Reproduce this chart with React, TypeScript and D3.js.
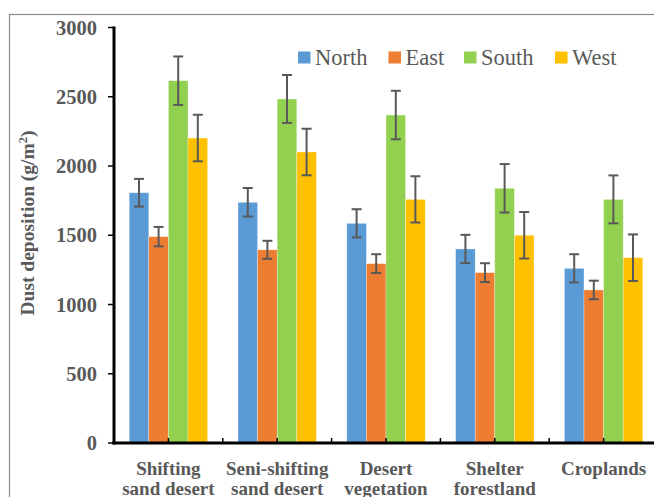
import * as d3 from 'd3'

const categories = [
  ['Shifting', 'sand desert'],
  ['Seni-shifting', 'sand desert'],
  ['Desert', 'vegetation'],
  ['Shelter', 'forestland'],
  ['Croplands'],
]
const series = ['North', 'East', 'South', 'West']
const colors = ['#5B9BD5', '#ED7D31', '#92D050', '#FFC000']

// mean values per category, one array per series
const north = [1807, 1738, 1586, 1401, 1261]
const east = [1490, 1395, 1295, 1230, 1105]
const south = [2616, 2484, 2368, 1839, 1759]
const west = [2202, 2101, 1759, 1500, 1338]
// error bar half-widths
const northErr = [100, 103, 102, 102, 102]
const eastErr = [70, 65, 68, 68, 67]
const southErr = [175, 173, 175, 175, 173]
const westErr = [168, 168, 167, 168, 168]

const yTicks = [0, 500, 1000, 1500, 2000, 2500, 3000]

const values = [north, east, south, west]
const errors = [northErr, eastErr, southErr, westErr]

const W = 654
const H = 497
const textColor = '#595959'
const serif = '"Liberation Serif", "Times New Roman", serif'

export default function App() {
  const y = d3.scaleLinear().domain([0, 3000]).range([443, 27.5])
  const keys = categories.map((c) => c.join(' '))
  const x0 = d3.scaleBand<string>().domain(keys).range([114, 658]).padding(0)
  const groupW = 78.4
  const x1 = d3.scaleBand<string>().domain(series).range([0, groupW]).padding(0)
  const offset = (x0.bandwidth() - groupW) / 2
  const cap = 5

  return (
    <svg width={W} height={H} style={{ position: 'absolute', left: 0, top: 0, background: '#fff' }}>
      <rect x={9.5} y={14.5} width={700} height={600} fill="#fff" stroke="#8c8c8c" strokeWidth={1.2} />

      {/* bars */}
      {keys.map((k, ci) => (
        <g key={k} transform={`translate(${x0(k)! + offset},0)`}>
          {series.map((s, si) => (
            <rect
              key={s}
              x={x1(s)!}
              y={y(values[si][ci])}
              width={x1.bandwidth()}
              height={y(0) - y(values[si][ci])}
              fill={colors[si]}
              stroke="#ffffff"
              strokeOpacity={0.5}
              strokeWidth={0.6}
            />
          ))}
          {series.map((s, si) => {
            const cx = x1(s)! + x1.bandwidth() / 2
            const hi = y(values[si][ci] + errors[si][ci])
            const lo = y(values[si][ci] - errors[si][ci])
            return (
              <g key={s} stroke="#595959" strokeWidth={2}>
                <line x1={cx} x2={cx} y1={hi} y2={lo} />
                <line x1={cx - cap} x2={cx + cap} y1={hi} y2={hi} />
                <line x1={cx - cap} x2={cx + cap} y1={lo} y2={lo} />
              </g>
            )
          })}
        </g>
      ))}

      {/* y axis */}
      <line x1={114} x2={114} y1={y(3000) - 1} y2={y(0) + 1.5} stroke="#000" strokeWidth={3} />
      {yTicks.map((t) => (
        <g key={t}>
          <line x1={108} x2={114} y1={y(t)} y2={y(t)} stroke="#000" strokeWidth={1.5} />
          <text
            x={97}
            y={y(t)}
            dy="0.35em"
            textAnchor="end"
            fontFamily={serif}
            fontWeight="bold"
            fontSize={20.5}
            fill={textColor}
          >
            {t}
          </text>
        </g>
      ))}
      <text
        transform={`translate(34,223) rotate(-90)`}
        textAnchor="middle"
        fontFamily={serif}
        fontWeight="bold"
        fontSize={19.5}
        fill={textColor}
      >
        Dust deposition (g/m<tspan baselineShift="super" fontSize={12.5}>2</tspan>)
      </text>

      {/* x axis */}
      <line x1={112.5} x2={W} y1={y(0)} y2={y(0)} stroke="#000" strokeWidth={3} />
      {keys.map((k) => {
        const c = x0(k)! + x0.bandwidth() / 2
        return (
          <g key={k}>
            <line x1={c} x2={c} y1={y(0) - 5} y2={y(0)} stroke="#000" strokeWidth={1.5} />
            <line x1={x0(k)! + x0.bandwidth()} x2={x0(k)! + x0.bandwidth()} y1={y(0) - 5} y2={y(0)} stroke="#000" strokeWidth={1.5} />
          </g>
        )
      })}
      {categories.map((lines, i) => (
        <text
          key={keys[i]}
          x={x0(keys[i])! + x0.bandwidth() / 2}
          textAnchor="middle"
          fontFamily={serif}
          fontWeight="bold"
          fontSize={19}
          fill={textColor}
        >
          {lines.map((l, j) => (
            <tspan key={l} x={x0(keys[i])! + x0.bandwidth() / 2} y={475 + j * 19.5}>
              {l}
            </tspan>
          ))}
        </text>
      ))}

      {/* legend */}
      {series.map((s, i) => {
        const lx = [298, 388.5, 464, 555][i]
        return (
          <g key={s}>
            <rect x={lx} y={51.5} width={12.5} height={12} fill={colors[i]} />
            <text x={lx + 17} y={64.5} fontFamily={serif} fontSize={22.5} fill={textColor}>
              {s}
            </text>
          </g>
        )
      })}
    </svg>
  )
}
